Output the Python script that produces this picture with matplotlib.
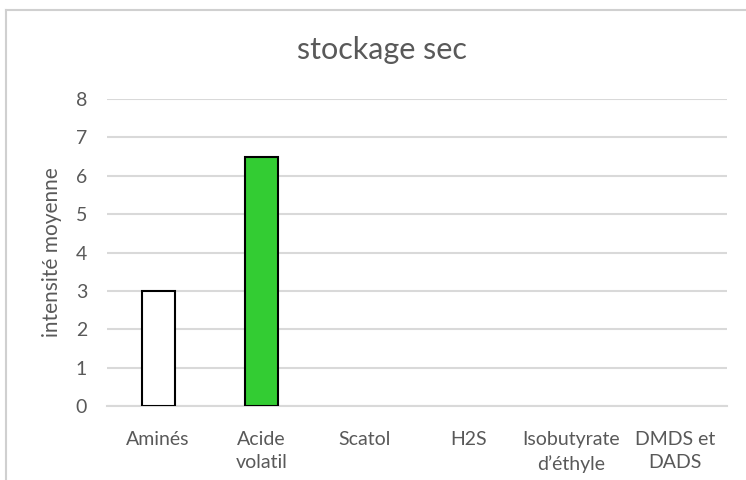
import matplotlib
matplotlib.use("Agg")
import matplotlib.pyplot as plt
from matplotlib.lines import Line2D

categories = ["Aminés", "Acide\nvolatil", "Scatol", "H2S", "Isobutyrate\nd\u2019éthyle", "DMDS et\nDADS"]
values = [3, 6.5, 0, 0, 0, 0]
bar_colors = ["white", "#33cc33", "white", "white", "white", "white"]
yticks = [0, 1, 2, 3, 4, 5, 6, 7, 8]

plt.rcParams["font.family"] = ["Lato", "DejaVu Sans"]
text_gray = "#595959"

fig = plt.figure(figsize=(7.46, 4.8), dpi=100)
ax = fig.add_axes([106.5 / 746, 1 - 406 / 480, 620 / 746, 307 / 480])

x = range(len(categories))
drawn = [i for i, v in enumerate(values) if v > 0]
ax.bar([i for i in drawn], [values[i] for i in drawn], width=0.32,
       color=[bar_colors[i] for i in drawn], edgecolor="black", linewidth=1.5, zorder=3)

ax.set_xlim(-0.5, len(categories) - 0.5)
ax.set_ylim(0, 8)
ax.set_yticks(yticks)
ax.set_xticks(list(x))
ax.set_xticklabels(categories, linespacing=1.45)
ax.yaxis.grid(True, color="#d9d9d9", linewidth=1.5, zorder=0)
ax.set_axisbelow(True)
for s in ["top", "right", "left"]:
    ax.spines[s].set_visible(False)
ax.spines["bottom"].set_color("#d9d9d9")
ax.spines["bottom"].set_linewidth(1.5)
ax.tick_params(axis="both", length=0, labelsize=14, labelcolor=text_gray)
ax.tick_params(axis="x", pad=18)
ax.tick_params(axis="y", pad=14)

ax.set_ylabel("intensité moyenne", fontsize=15, color=text_gray, labelpad=10)
fig.text(382 / 746, 1 - 50 / 480, "stockage sec", fontsize=22, color=text_gray,
         ha="center", va="center")

# chart frame
fig.add_artist(Line2D([6 / 746, 6 / 746], [0, 1 - 10 / 480], transform=fig.transFigure,
                      color="#d0d0d0", linewidth=1.5))
fig.add_artist(Line2D([6 / 746, 1], [1 - 10 / 480, 1 - 10 / 480], transform=fig.transFigure,
                      color="#d0d0d0", linewidth=1.5))

fig.savefig("out.png", dpi=100)
